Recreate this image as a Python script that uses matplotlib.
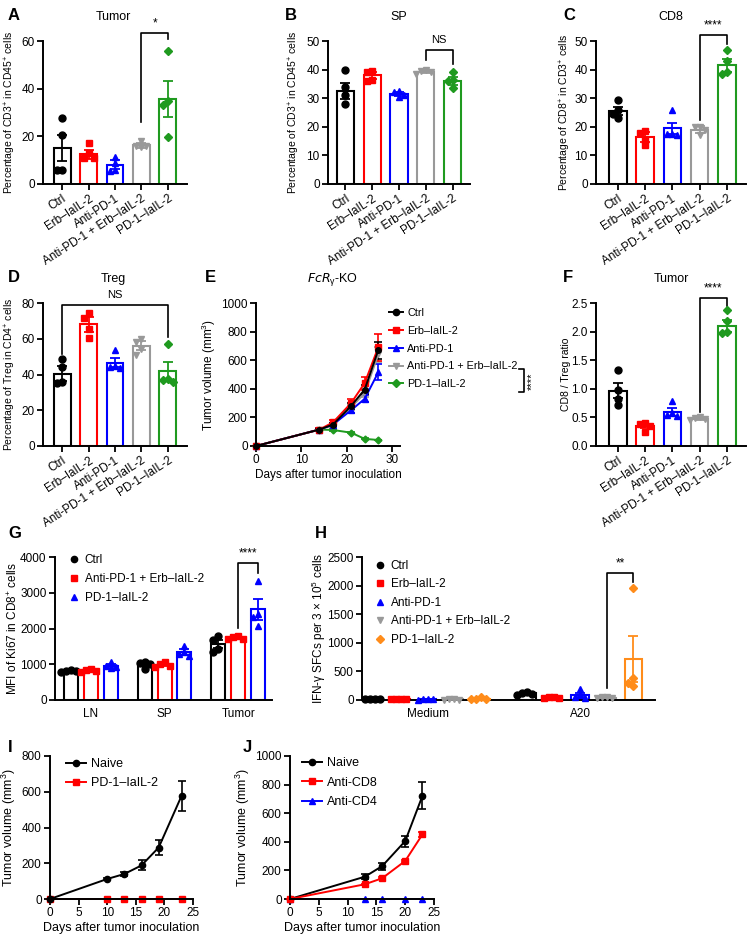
import matplotlib
matplotlib.use('Agg')
import matplotlib.pyplot as plt
import numpy as np
from matplotlib.lines import Line2D
from matplotlib.ticker import FormatStrFormatter

plt.rcParams['font.family'] = ['Liberation Sans', 'DejaVu Sans']
plt.rcParams['mathtext.default'] = 'regular'
plt.rcParams['axes.linewidth'] = 1.4

W, H = 753, 944

# ---------------- data ----------------
groups = ['Ctrl', 'Erb–IaIL-2', 'Anti-PD-1', 'Anti-PD-1 + Erb–IaIL-2', 'PD-1–IaIL-2']
colors5 = ['black', '#ff0000', '#0000ff', '#999999', '#1f9a1f']
markers5 = ['o', 's', '^', 'v', 'D']

# A: % CD3+ in CD45+ (tumor)
a_mean = [15.2, 12.5, 8.0, 16.2, 35.8]
a_sem = [5.4, 1.9, 1.9, 0.9, 7.5]
a_pts = [[27.5, 20.5, 6.0, 6.0], [17.0, 13.0, 11.0, 11.0], [11.5, 9.0, 5.5, 6.0],
         [18.0, 16.0, 15.5, 16.0], [56.0, 35.0, 33.0, 19.8]]
# B: % CD3+ in CD45+ (SP)
b_mean = [32.5, 38.0, 31.5, 39.3, 36.0]
b_sem = [2.8, 1.3, 0.8, 0.5, 1.3]
b_pts = [[40.0, 34.0, 31.0, 28.0], [39.5, 39.0, 36.5, 36.0], [32.5, 32.0, 31.0, 30.5],
         [40.0, 39.5, 39.0, 38.5], [39.0, 36.5, 36.0, 33.5]]
# C: % CD8+ in CD3+
c_mean = [25.5, 16.5, 19.5, 19.0, 41.5]
c_sem = [1.4, 1.7, 2.0, 1.2, 2.2]
c_pts = [[29.5, 26.0, 24.5, 23.0], [18.5, 18.0, 15.5, 13.5], [26.0, 17.5, 17.5, 17.0],
         [20.0, 20.0, 19.0, 17.0], [47.0, 43.0, 38.5, 39.0]]
# D: % Treg in CD4+
d_mean = [40.5, 68.0, 46.5, 56.0, 42.0]
d_sem = [4.0, 4.0, 2.5, 2.5, 5.0]
d_pts = [[48.5, 44.0, 36.0, 35.0], [74.6, 71.6, 65.5, 60.4], [53.5, 45.0, 44.0, 43.5],
         [60.0, 58.0, 54.0, 51.0], [57.0, 37.5, 37.0, 36.0]]
# F: CD8 / Treg ratio
f_mean = [0.97, 0.35, 0.59, 0.48, 2.10]
f_sem = [0.13, 0.04, 0.07, 0.02, 0.10]
f_pts = [[1.33, 0.98, 0.82, 0.72], [0.40, 0.38, 0.35, 0.25], [0.78, 0.57, 0.55, 0.53],
         [0.50, 0.49, 0.48, 0.46], [2.37, 2.18, 2.00, 1.97]]

# E: tumor growth, FcRg-KO
e_days = [0, 14, 17, 21, 24, 27]
e_ctrl = [0, 115, 150, 280, 395, 670]
e_ctrl_sem = [0, 5, 10, 20, 30, 60]
e_erb = [0, 115, 165, 300, 440, 690]
e_erb_sem = [0, 8, 15, 30, 45, 95]
e_anti = [0, 115, 150, 250, 330, 515]
e_anti_sem = [0, 8, 10, 20, 25, 55]
e_combo = [0, 115, 145, 270, 370, 640]
e_combo_sem = [0, 5, 10, 20, 30, 50]
e_pd1 = [0, 115, 112, 93, 50, 42]
e_pd1_sem = [0, 4, 4, 5, 4, 3]

# G: MFI of Ki67 in CD8+
g_groups = ['LN', 'SP', 'Tumor']
g_series = ['Ctrl', 'Anti-PD-1 + Erb–IaIL-2', 'PD-1–IaIL-2']
g_colors = ['black', '#ff0000', '#0000ff']
g_markers = ['o', 's', '^']
g_mean = [[810, 1000, 1560], [830, 985, 1735], [960, 1345, 2540]]
g_sem = [[25, 40, 110], [45, 30, 25], [55, 75, 290]]
g_pts = [[[830, 820, 800, 780], [1070, 1040, 1000, 880], [1800, 1680, 1420, 1350]],
         [[880, 850, 800, 770], [1050, 1000, 960, 930], [1780, 1750, 1720, 1700]],
         [[1060, 960, 930, 890], [1520, 1350, 1290, 1230], [3330, 2400, 2330, 2080]]]

# H: IFN-g SFCs
h_groups = ['Medium', 'A20']
h_series = ['Ctrl', 'Erb–IaIL-2', 'Anti-PD-1', 'Anti-PD-1 + Erb–IaIL-2', 'PD-1–IaIL-2']
h_colors = ['black', '#ff0000', '#0000ff', '#999999', '#ff8c1a']
h_mean = [[15, 115], [15, 41], [12, 91], [10, 40], [25, 720]]
h_sem = [[3, 12], [3, 6], [3, 35], [2, 6], [12, 400]]
h_pts = [[[20, 15, 12, 10], [140, 120, 110, 90]],
         [[20, 15, 12, 10], [55, 45, 35, 30]],
         [[18, 12, 10, 8], [190, 80, 55, 40]],
         [[14, 10, 8, 8], [55, 45, 35, 30]],
         [[60, 20, 10, 10], [1950, 380, 300, 250]]]

# I: tumor growth after rechallenge
i_days = [0, 10, 13, 16, 19, 23]
i_naive = [0, 112, 140, 188, 288, 577]
i_naive_sem = [0, 8, 10, 28, 43, 85]
i_pd1 = [0, 0, 0, 0, 0, 0]

# J: depletion
j_days = [0, 13, 16, 20, 23]
j_naive = [0, 156, 230, 405, 722]
j_naive_sem = [0, 18, 25, 38, 93]
j_cd8 = [0, 103, 145, 266, 452]
j_cd8_sem = [0, 5, 8, 10, 18]
j_cd4 = [0, 0, 0, 0, 0]

# ---------------- helpers ----------------
fig = plt.figure(figsize=(W / 100, H / 100), dpi=100)


def rect(l, t, r, b):
    return [l / W, 1 - b / H, (r - l) / W, (b - t) / H]


def ftext(x, y, s, **kw):
    fig.text(x / W, 1 - y / H, s, **kw)


def style(ax):
    for s in ['top', 'right']:
        ax.spines[s].set_visible(False)
    ax.tick_params(direction='out', length=4, width=1.3, pad=2, labelsize=8.5)


def ylab(ax, text, xc, l, r, fs=7.5):
    ax.set_ylabel(text, fontsize=fs)
    ax.yaxis.set_label_coords((xc + 5 - l) / (r - l), 0.5)


def swarm(vals, ypu, step=5.0, gap=5.5):
    # spread points sideways when they would overlap
    placed, offs = [], []
    for v in vals:
        for k in [0, -1, 1, -2, 2, -3, 3]:
            if all(abs(k - pk) >= 1 or abs(v - pv) * ypu >= gap for pk, pv in placed):
                break
        placed.append((k, v))
        offs.append(k * step)
    return offs


def bracket(ax, i, j, ytop, yl, yr, txt, ty, fs=8.5):
    ax.plot([i, i, j, j], [yl, ytop, ytop, yr], color='black', lw=1.2, clip_on=False)
    ax.text((i + j) / 2, ty, txt, ha='center', va='center', fontsize=fs, clip_on=False)


def bars(ax, x, mean, sem, pts, c, m, width, xpu, ypu):
    ax.bar(x, mean, width=width, facecolor='white', edgecolor=c, lw=1.5, zorder=1)
    ax.errorbar(x, mean, yerr=sem, fmt='none', ecolor=c, elinewidth=1.3,
                capsize=3.5, capthick=1.3, zorder=3)
    vals = sorted(pts, reverse=True)
    for o, v in zip(swarm(vals, ypu), vals):
        ax.plot(x + o / xpu, v, ls='none', marker=m, color=c, ms=5 if m != 'D' else 4,
                zorder=4, clip_on=False)


def bar_panel(box, means, sems, pts, ymax, ystep, ylabel, ylx, sig, fmt='%d',
              xlim=(-0.72, 4.72), width=0.64):
    l, t, r, b = box
    ax = fig.add_axes(rect(*box))
    xpu = (r - l) / (xlim[1] - xlim[0])
    ypu = (b - t) / ymax
    for i in range(len(means)):
        bars(ax, i, means[i], sems[i], pts[i], colors5[i], markers5[i], width, xpu, ypu)
    ax.set_xlim(*xlim)
    ax.set_ylim(0, ymax)
    ax.set_yticks(np.arange(0, ymax + ystep / 2, ystep))
    ax.yaxis.set_major_formatter(FormatStrFormatter(fmt))
    ax.set_xticks(range(len(means)))
    ax.set_xticklabels(groups, rotation=33, ha='right', rotation_mode='anchor', fontsize=9)
    style(ax)
    ylab(ax, ylabel, ylx, l, r)
    bracket(ax, *sig)
    return ax


def leg(ax, handles, labels, x, y, fs=9, hl=1.3, sp=0.45):
    ax.legend(handles, labels, loc='upper left', bbox_to_anchor=(x / W, 1 - y / H),
              bbox_transform=fig.transFigure, frameon=False, fontsize=fs, borderpad=0,
              borderaxespad=0, handlelength=hl, handletextpad=0.4, labelspacing=sp)


def key(c, m, ls='-'):
    return Line2D([], [], color=c, marker=m, ls=ls, lw=1.4, ms=4.5 if m != 'D' else 3.8)


# ---------------- A, B, C, D, F ----------------
bar_panel((43, 41, 187, 184), a_mean, a_sem, a_pts, 60, 20,
          'Percentage of CD3$^{+}$ in CD45$^{+}$ cells', 13,
          (3, 4, 63.5, 26, 61, '*', 67.5))
bar_panel((328, 41, 470, 184), b_mean, b_sem, b_pts, 50, 10,
          'Percentage of CD3$^{+}$ in CD45$^{+}$ cells', 297,
          (3, 4, 46.8, 43.3, 41.8, 'NS', 50.5, 8), xlim=(-0.65, 4.65))
bar_panel((596, 41, 746, 184), c_mean, c_sem, c_pts, 50, 10,
          'Percentage of CD8$^{+}$ in CD3$^{+}$ cells', 568,
          (3, 4, 52.2, 22.3, 49, '****', 55.3), xlim=(-0.8, 4.7))
bar_panel((43, 303, 187, 446), d_mean, d_sem, d_pts, 80, 20,
          'Percentage of Treg in CD4$^{+}$ cells', 13,
          (0, 4, 79, 51.7, 61, 'NS', 84.5, 8))
bar_panel((596, 303, 746, 446), f_mean, f_sem, f_pts, 2.5, 0.5,
          'CD8 / Treg ratio', 566,
          (3, 4, 2.59, 0.59, 2.45, '****', 2.76), fmt='%.1f', xlim=(-0.8, 4.7))

# ---------------- E ----------------
l, t, r, b = 256, 303, 400, 446
ax = fig.add_axes(rect(l, t, r, b))
e_series = [('Ctrl', e_ctrl, e_ctrl_sem, 'black', 'o'),
            ('Erb–IaIL-2', e_erb, e_erb_sem, '#ff0000', 's'),
            ('Anti-PD-1', e_anti, e_anti_sem, '#0000ff', '^'),
            ('Anti-PD-1 + Erb–IaIL-2', e_combo, e_combo_sem, '#999999', 'v'),
            ('PD-1–IaIL-2', e_pd1, e_pd1_sem, '#1f9a1f', 'D')]
for name, y, s, c, m in reversed(e_series):
    ax.errorbar(e_days, y, yerr=s, color=c, marker=m, ms=4 if m != 'D' else 3.5,
                lw=1.4, elinewidth=1.2, capsize=3, capthick=1.2, clip_on=False)
ax.set_xlim(0, 31.8)
ax.set_ylim(0, 1000)
ax.set_xticks([0, 10, 20, 30])
ax.set_yticks(range(0, 1001, 200))
style(ax)
ylab(ax, 'Tumor volume (mm$^{3}$)', 213, l, r, fs=8.5)
ax.set_xlabel('Days after tumor inoculation', fontsize=8.5, labelpad=2)
leg(ax, [key(n[3], n[4]) for n in e_series], [n[0] for n in e_series], 389, 308,
    fs=7.8, hl=1.3, sp=0.72)
fig.add_artist(Line2D([519 / W, 524 / W, 524 / W, 519 / W],
                      [1 - 369 / H, 1 - 369 / H, 1 - 392 / H, 1 - 392 / H], color='black', lw=1.2))
ftext(532, 381, '****', rotation=90, ha='center', va='center', fontsize=8)

# ---------------- G ----------------
l, t, r, b = 55, 557, 272, 700
ax = fig.add_axes(rect(l, t, r, b))
xlim = (-0.49, 2.46)
xpu = (r - l) / (xlim[1] - xlim[0])
ypu = (b - t) / 4000
for k in range(3):
    for gi in range(3):
        bars(ax, gi + (k - 1) * 0.27, g_mean[k][gi], g_sem[k][gi], g_pts[k][gi],
             g_colors[k], g_markers[k], 0.19, xpu, ypu)
ax.set_xlim(*xlim)
ax.set_ylim(0, 4000)
ax.set_yticks(range(0, 4001, 1000))
ax.set_xticks(range(3))
ax.set_xticklabels(g_groups, fontsize=9)
style(ax)
ax.tick_params(axis='x', length=0, pad=6)
ylab(ax, 'MFI of Ki67 in CD8$^{+}$ cells', 15, l, r, fs=8.5)
bracket(ax, 2, 2.27, 3824, 2022, 3561, '****', 4090)
leg(ax, [key(c, m, 'none') for c, m in zip(g_colors, g_markers)],
    g_series, 68, 554, fs=8.5, hl=1.0, sp=0.6)

# ---------------- H ----------------
l, t, r, b = 362, 557, 655, 700
ax = fig.add_axes(rect(l, t, r, b))
xlim = (-0.43, 1.49)
xpu = (r - l) / (xlim[1] - xlim[0])
ypu = (b - t) / 2500
for k in range(5):
    for gi in range(2):
        bars(ax, gi + (k - 2) * 0.174, h_mean[k][gi], h_sem[k][gi], h_pts[k][gi],
             h_colors[k], markers5[k], 0.115, xpu, ypu)
ax.set_xlim(*xlim)
ax.set_ylim(0, 2500)
ax.set_yticks(range(0, 2501, 500))
ax.set_xticks(range(2))
ax.set_xticklabels(h_groups, fontsize=9)
style(ax)
ax.tick_params(axis='x', length=0, pad=6)
ylab(ax, 'IFN-γ SFCs per 3 × 10$^{5}$ cells', 323, l, r, fs=8.5)
bracket(ax, 1 + 0.174, 1 + 2 * 0.174, 2215, 210, 2063, '**', 2390)
leg(ax, [key(c, m, 'none') for c, m in zip(h_colors, markers5)],
    h_series, 374, 560, fs=8.5, hl=1.0, sp=0.55)

# ---------------- I ----------------
l, t, r, b = 50, 756, 193, 899
ax = fig.add_axes(rect(l, t, r, b))
ax.errorbar(i_days, i_naive, yerr=i_naive_sem, color='black', marker='o', ms=4.5, lw=1.4,
            elinewidth=1.2, capsize=3, capthick=1.2, clip_on=False)
ax.plot(i_days, i_pd1, color='#ff0000', marker='s', ms=4.5, lw=1.4, clip_on=False)
ax.set_xlim(0, 25)
ax.set_ylim(0, 800)
ax.set_xticks(range(0, 26, 5))
ax.set_yticks(range(0, 801, 200))
style(ax)
ylab(ax, 'Tumor volume (mm$^{3}$)', 13, l, r, fs=9)
ax.set_xlabel('Days after tumor inoculation', fontsize=9, labelpad=2)
leg(ax, [key('black', 'o'), key('#ff0000', 's')], ['Naive', 'PD-1–IaIL-2'], 66, 758,
    fs=9, hl=1.6, sp=0.55)

# ---------------- J ----------------
l, t, r, b = 290, 756, 434, 899
ax = fig.add_axes(rect(l, t, r, b))
ax.errorbar(j_days, j_naive, yerr=j_naive_sem, color='black', marker='o', ms=4.5, lw=1.4,
            elinewidth=1.2, capsize=3, capthick=1.2, clip_on=False)
ax.errorbar(j_days, j_cd8, yerr=j_cd8_sem, color='#ff0000', marker='s', ms=4.5, lw=1.4,
            elinewidth=1.2, capsize=3, capthick=1.2, clip_on=False)
ax.plot(j_days, j_cd4, color='#0000ff', marker='^', ms=4.5, lw=1.4, clip_on=False)
ax.set_xlim(0, 25)
ax.set_ylim(0, 1000)
ax.set_xticks(range(0, 26, 5))
ax.set_yticks(range(0, 1001, 200))
style(ax)
ylab(ax, 'Tumor volume (mm$^{3}$)', 247, l, r, fs=9)
ax.set_xlabel('Days after tumor inoculation', fontsize=9, labelpad=2)
leg(ax, [key('black', 'o'), key('#ff0000', 's'), key('#0000ff', '^')],
    ['Naive', 'Anti-CD8', 'Anti-CD4'], 302, 757, fs=9, hl=1.6, sp=0.6)

# ---------------- titles and letters ----------------
for x, y, s in [(113, 17, 'Tumor'), (399, 17, 'SP'), (671, 17, 'CD8'), (113, 279, 'Treg'),
                (671, 279, 'Tumor')]:
    ftext(x, y, s, ha='center', va='center', fontsize=9)
ftext(333, 279, r'$\mathit{FcR}_{\gamma}$-KO', ha='center', va='center', fontsize=9)
for x, y, s in [(8, 15, 'A'), (285, 15, 'B'), (563, 15, 'C'), (8, 278, 'D'), (205, 278, 'E'),
                (563, 278, 'F'), (8, 534, 'G'), (315, 534, 'H'), (8, 748, 'I'), (243, 748, 'J')]:
    ftext(x, y, s, ha='left', va='center', fontsize=12, fontweight='bold')

fig.savefig('out.png', dpi=100)
